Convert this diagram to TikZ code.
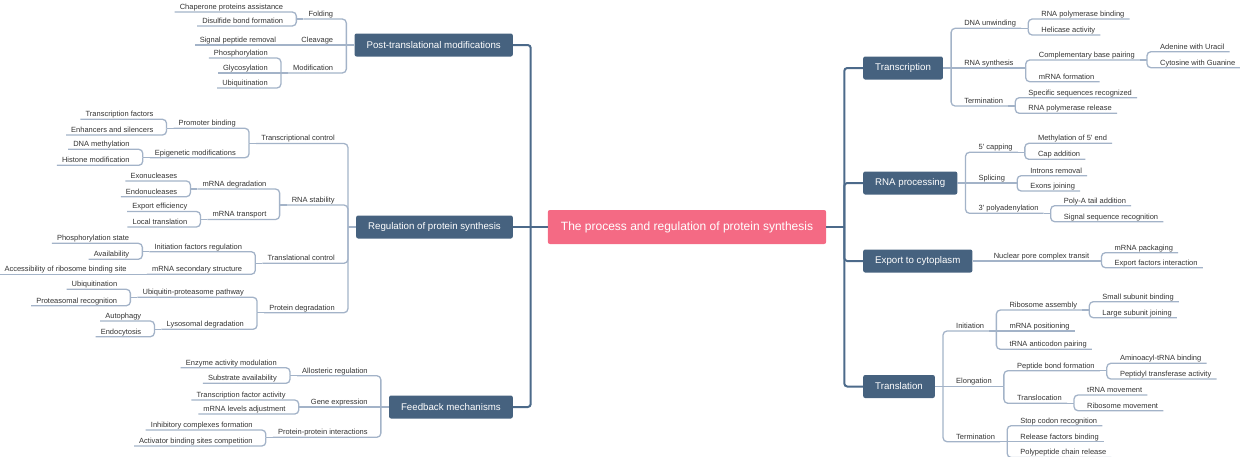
\documentclass[tikz,border=0pt]{standalone}
\usepackage{fontspec}
\setmainfont{Liberation Sans}
\usetikzlibrary{calc}

\definecolor{boxblue}{HTML}{46627F}
\definecolor{rootpink}{HTML}{F46A84}
\definecolor{trunkline}{HTML}{4C6A8A}
\definecolor{subline}{HTML}{A3B3C8}
\definecolor{txtgray}{HTML}{333333}

\tikzset{
  rootbox/.style={fill=rootpink, text=white, rounded corners=2pt, font=\fontsize{12}{14}\selectfont, inner xsep=13pt, minimum height=34pt},
  mainbox/.style={fill=boxblue, text=white, rounded corners=2pt, font=\fontsize{9.7}{11}\selectfont, inner xsep=12pt, minimum height=23pt},
  twig/.style={text=txtgray, font=\fontsize{7.5}{9}\selectfont, inner xsep=5pt, inner ysep=1.5pt, text depth=1pt},
  lnode/.style={twig, anchor=south east, xshift=-8pt},
  rnode/.style={twig, anchor=south west, xshift=8pt},
  trunk/.style={draw=trunkline, line width=2pt, rounded corners=3pt},
  branch/.style={draw=subline, line width=1.3pt, rounded corners=4pt},
}

\begin{document}
\begin{tikzpicture}[x=1pt, y=-1pt]
  \useasboundingbox (0,0) rectangle (1240,456);
  % Root and main topics
  \node[rootbox] (root) at (687,227) {The process and regulation of protein synthesis};
  \node[mainbox, anchor=east] (ptm) at (513,45) {Post-translational modifications};
  \node[mainbox, anchor=east] (reg) at (513,227) {Regulation of protein synthesis};
  \node[mainbox, anchor=east] (fb) at (513,407) {Feedback mechanisms};
  \node[mainbox, anchor=west] (tsc) at (863,68) {Transcription};
  \node[mainbox, anchor=west] (proc) at (863,183) {RNA processing};
  \node[mainbox, anchor=west] (exp) at (863,261) {Export to cytoplasm};
  \node[mainbox, anchor=west] (tsl) at (863,386.5) {Translation};
  % Trunk lines
  \coordinate (lj) at ($(root.west)+(-17,0)$);
  \draw[trunk] (root.west) -- (reg.east);
  \draw[trunk] (lj) |- (ptm.east);
  \draw[trunk] (lj) |- (fb.east);
  \coordinate (rj) at ($(root.east)+(18,0)$);
  \draw[trunk] (root.east) -- (rj);
  \foreach \m in {tsc,proc,exp,tsl} \draw[trunk] (rj) |- (\m.west);

  % ---------------- Post-translational modifications
  \draw[branch] (ptm.west) -- ++(-8,0) coordinate (ptmj);
  \node[lnode] (fold) at (ptmj |- 0,19) {Folding};
  \node[lnode] (clv) at (ptmj) {Cleavage};
  \node[lnode] (mdf) at (ptmj |- 0,73) {Modification};
  \draw[branch] (ptmj) |- (fold.south west);
  \draw[branch] (ptmj) -- (clv.south west);
  \draw[branch] (ptmj) |- (mdf.south west);
  % Folding
  \draw[branch] (fold.south west) -- ++(-7,0) coordinate (foldj);
  \foreach \n/\y/\lbl in {chap/12/Chaperone proteins assistance, disu/26/Disulfide bond formation}{
    \node[lnode] (\n) at (foldj |- 0,\y) {\lbl};
    \draw[branch] (foldj) |- (\n.south west);
  }
  % Cleavage
  \draw[branch] (clv.south west) -- ++(-7,0) coordinate (clvj);
  \node[lnode] (sig) at (clvj) {Signal peptide removal};
  \draw[branch] (clvj) -- (sig.south west);
  % Modification
  \draw[branch] (mdf.south west) -- ++(-7,0) coordinate (mdfj);
  \node[lnode] (phos) at (mdfj |- 0,58) {Phosphorylation};
  \node[lnode] (glyc) at (mdfj) {Glycosylation};
  \node[lnode] (ubq) at (mdfj |- 0,88) {Ubiquitination};
  \draw[branch] (mdfj) |- (phos.south west);
  \draw[branch] (mdfj) -- (glyc.south west);
  \draw[branch] (mdfj) |- (ubq.south west);

  % ---------------- Regulation of protein synthesis
  \draw[branch] (reg.west) -- ++(-8,0) coordinate (regj);
  \foreach \n/\y/\lbl in {tctl/143.5/Transcriptional control, rstab/205/RNA stability, tlctl/263.3/Translational control, pdeg/312.7/Protein degradation}{
    \node[lnode] (\n) at (regj |- 0,\y) {\lbl};
    \draw[branch] (regj) |- (\n.south west);
  }
  % Transcriptional control
  \draw[branch] (tctl.south west) -- ++(-7,0) coordinate (tctlj);
  \foreach \n/\y/\lbl in {pbind/128.3/Promoter binding, epi/157.7/Epigenetic modifications}{
    \node[lnode] (\n) at (tctlj |- 0,\y) {\lbl};
    \draw[branch] (tctlj) |- (\n.south west);
  }
  \draw[branch] (pbind.south west) -- ++(-7,0) coordinate (pbindj);
  \foreach \n/\y/\lbl in {tfac/119.3/Transcription factors, enh/135/Enhancers and silencers}{
    \node[lnode] (\n) at (pbindj |- 0,\y) {\lbl};
    \draw[branch] (pbindj) |- (\n.south west);
  }
  \draw[branch] (epi.south west) -- ++(-7,0) coordinate (epij);
  \foreach \n/\y/\lbl in {dnam/149.3/DNA methylation, hist/165.3/Histone modification}{
    \node[lnode] (\n) at (epij |- 0,\y) {\lbl};
    \draw[branch] (epij) |- (\n.south west);
  }
  % RNA stability
  \draw[branch] (rstab.south west) -- ++(-7,0) coordinate (rstabj);
  \foreach \n/\y/\lbl in {mdeg/189/mRNA degradation, mtr/219.5/mRNA transport}{
    \node[lnode] (\n) at (rstabj |- 0,\y) {\lbl};
    \draw[branch] (rstabj) |- (\n.south west);
  }
  \draw[branch] (mdeg.south west) -- ++(-7,0) coordinate (mdegj);
  \foreach \n/\y/\lbl in {exo/181/Exonucleases, endo/196.7/Endonucleases}{
    \node[lnode] (\n) at (mdegj |- 0,\y) {\lbl};
    \draw[branch] (mdegj) |- (\n.south west);
  }
  \draw[branch] (mtr.south west) -- ++(-7,0) coordinate (mtrj);
  \foreach \n/\y/\lbl in {expeff/211.5/Export efficiency, loct/227/Local translation}{
    \node[lnode] (\n) at (mtrj |- 0,\y) {\lbl};
    \draw[branch] (mtrj) |- (\n.south west);
  }
  % Translational control
  \draw[branch] (tlctl.south west) -- ++(-7,0) coordinate (tlctlj);
  \foreach \n/\y/\lbl in {ifr/251.7/Initiation factors regulation, msec/274.3/mRNA secondary structure}{
    \node[lnode] (\n) at (tlctlj |- 0,\y) {\lbl};
    \draw[branch] (tlctlj) |- (\n.south west);
  }
  \draw[branch] (ifr.south west) -- ++(-7,0) coordinate (ifrj);
  \foreach \n/\y/\lbl in {phst/243.3/Phosphorylation state, avail/259.3/Availability}{
    \node[lnode] (\n) at (ifrj |- 0,\y) {\lbl};
    \draw[branch] (ifrj) |- (\n.south west);
  }
  \draw[branch] (msec.south west) -- ++(-7,0) coordinate (msecj);
  \node[lnode] (acc) at (msecj) {Accessibility of ribosome binding site};
  \draw[branch] (msecj) -- (acc.south west);
  % Protein degradation
  \draw[branch] (pdeg.south west) -- ++(-7,0) coordinate (pdegj);
  \foreach \n/\y/\lbl in {ups/297.3/Ubiquitin-proteasome pathway, lys/329.3/Lysosomal degradation}{
    \node[lnode] (\n) at (pdegj |- 0,\y) {\lbl};
    \draw[branch] (pdegj) |- (\n.south west);
  }
  \draw[branch] (ups.south west) -- ++(-7,0) coordinate (upsj);
  \foreach \n/\y/\lbl in {ubqb/289.3/Ubiquitination, prec/305.7/Proteasomal recognition}{
    \node[lnode] (\n) at (upsj |- 0,\y) {\lbl};
    \draw[branch] (upsj) |- (\n.south west);
  }
  \draw[branch] (lys.south west) -- ++(-7,0) coordinate (lysj);
  \foreach \n/\y/\lbl in {auto/321/Autophagy, endc/336.7/Endocytosis}{
    \node[lnode] (\n) at (lysj |- 0,\y) {\lbl};
    \draw[branch] (lysj) |- (\n.south west);
  }

  % ---------------- Feedback mechanisms
  \draw[branch] (fb.west) -- ++(-8,0) coordinate (fbj);
  \node[lnode] (allo) at (fbj |- 0,375.7) {Allosteric regulation};
  \node[lnode] (gexp) at (fbj) {Gene expression};
  \node[lnode] (ppi) at (fbj |- 0,437.3) {Protein-protein interactions};
  \draw[branch] (fbj) |- (allo.south west);
  \draw[branch] (fbj) -- (gexp.south west);
  \draw[branch] (fbj) |- (ppi.south west);
  \draw[branch] (allo.south west) -- ++(-7,0) coordinate (alloj);
  \foreach \n/\y/\lbl in {enz/367.7/Enzyme activity modulation, subs/383.3/Substrate availability}{
    \node[lnode] (\n) at (alloj |- 0,\y) {\lbl};
    \draw[branch] (alloj) |- (\n.south west);
  }
  \draw[branch] (gexp.south west) -- ++(-7,0) coordinate (gexpj);
  \foreach \n/\y/\lbl in {tfa/400/Transcription factor activity, mlev/414/mRNA levels adjustment}{
    \node[lnode] (\n) at (gexpj |- 0,\y) {\lbl};
    \draw[branch] (gexpj) |- (\n.south west);
  }
  \draw[branch] (ppi.south west) -- ++(-7,0) coordinate (ppij);
  \foreach \n/\y/\lbl in {inhib/430/Inhibitory complexes formation, actv/446/Activator binding sites competition}{
    \node[lnode] (\n) at (ppij |- 0,\y) {\lbl};
    \draw[branch] (ppij) |- (\n.south west);
  }

  % ---------------- Transcription
  \draw[branch] (tsc.east) -- ++(8,0) coordinate (tscj);
  \node[rnode] (dnau) at (tscj |- 0,28.3) {DNA unwinding};
  \node[rnode] (rsyn) at (tscj) {RNA synthesis};
  \node[rnode] (term) at (tscj |- 0,106) {Termination};
  \draw[branch] (tscj) |- (dnau.south east);
  \draw[branch] (tscj) -- (rsyn.south east);
  \draw[branch] (tscj) |- (term.south east);
  \draw[branch] (dnau.south east) -- ++(7,0) coordinate (dnauj);
  \foreach \n/\y/\lbl in {rpb/19/RNA polymerase binding, heli/35/Helicase activity}{
    \node[rnode] (\n) at (dnauj |- 0,\y) {\lbl};
    \draw[branch] (dnauj) |- (\n.south east);
  }
  \draw[branch] (rsyn.south east) -- ++(7,0) coordinate (rsynj);
  \foreach \n/\y/\lbl in {cbp/60/Complementary base pairing, mform/81.7/mRNA formation}{
    \node[rnode] (\n) at (rsynj |- 0,\y) {\lbl};
    \draw[branch] (rsynj) |- (\n.south east);
  }
  \draw[branch] (cbp.south east) -- ++(7,0) coordinate (cbpj);
  \foreach \n/\y/\lbl in {adu/51.7/Adenine with Uracil, cyg/67.7/Cytosine with Guanine}{
    \node[rnode] (\n) at (cbpj |- 0,\y) {\lbl};
    \draw[branch] (cbpj) |- (\n.south east);
  }
  \draw[branch] (term.south east) -- ++(7,0) coordinate (termj);
  \foreach \n/\y/\lbl in {ssr/97.7/Specific sequences recognized, rpr/113.3/RNA polymerase release}{
    \node[rnode] (\n) at (termj |- 0,\y) {\lbl};
    \draw[branch] (termj) |- (\n.south east);
  }

  % ---------------- RNA processing
  \draw[branch] (proc.east) -- ++(8,0) coordinate (procj);
  \node[rnode] (cap) at (procj |- 0,152.3) {5\textquotesingle{} capping};
  \node[rnode] (spl) at (procj) {Splicing};
  \node[rnode] (poly) at (procj |- 0,213.3) {3\textquotesingle{} polyadenylation};
  \draw[branch] (procj) |- (cap.south east);
  \draw[branch] (procj) -- (spl.south east);
  \draw[branch] (procj) |- (poly.south east);
  \draw[branch] (cap.south east) -- ++(7,0) coordinate (capj);
  \foreach \n/\y/\lbl in {meth/143.3/Methylation of 5\textquotesingle{} end, capadd/159.3/Cap addition}{
    \node[rnode] (\n) at (capj |- 0,\y) {\lbl};
    \draw[branch] (capj) |- (\n.south east);
  }
  \draw[branch] (spl.south east) -- ++(7,0) coordinate (splj);
  \foreach \n/\y/\lbl in {intr/175.7/Introns removal, exj/191/Exons joining}{
    \node[rnode] (\n) at (splj |- 0,\y) {\lbl};
    \draw[branch] (splj) |- (\n.south east);
  }
  \draw[branch] (poly.south east) -- ++(7,0) coordinate (polyj);
  \foreach \n/\y/\lbl in {pat/205.7/Poly-A tail addition, ssrec/221.7/Signal sequence recognition}{
    \node[rnode] (\n) at (polyj |- 0,\y) {\lbl};
    \draw[branch] (polyj) |- (\n.south east);
  }

  % ---------------- Export to cytoplasm
  \draw[branch] (exp.east) -- ++(8,0) coordinate (expj);
  \node[rnode] (npct) at (expj) {Nuclear pore complex transit};
  \draw[branch] (expj) -- (npct.south east);
  \draw[branch] (npct.south east) -- ++(7,0) coordinate (npctj);
  \foreach \n/\y/\lbl in {mpack/252.7/mRNA packaging, efi/267.7/Export factors interaction}{
    \node[rnode] (\n) at (npctj |- 0,\y) {\lbl};
    \draw[branch] (npctj) |- (\n.south east);
  }

  % ---------------- Translation
  \draw[branch] (tsl.east) -- ++(8,0) coordinate (tslj);
  \node[rnode] (init) at (tslj |- 0,331) {Initiation};
  \node[rnode] (elong) at (tslj) {Elongation};
  \node[rnode] (tterm) at (tslj |- 0,441.7) {Termination};
  \draw[branch] (tslj) |- (init.south east);
  \draw[branch] (tslj) -- (elong.south east);
  \draw[branch] (tslj) |- (tterm.south east);
  % Initiation
  \draw[branch] (init.south east) -- ++(7,0) coordinate (initj);
  \node[rnode] (rasm) at (initj |- 0,310) {Ribosome assembly};
  \node[rnode] (mpos) at (initj) {mRNA positioning};
  \node[rnode] (tac) at (initj |- 0,349.3) {tRNA anticodon pairing};
  \draw[branch] (initj) |- (rasm.south east);
  \draw[branch] (initj) -- (mpos.south east);
  \draw[branch] (initj) |- (tac.south east);
  \draw[branch] (rasm.south east) -- ++(7,0) coordinate (rasmj);
  \foreach \n/\y/\lbl in {ssb/301.7/Small subunit binding, lsj/317.7/Large subunit joining}{
    \node[rnode] (\n) at (rasmj |- 0,\y) {\lbl};
    \draw[branch] (rasmj) |- (\n.south east);
  }
  % Elongation
  \draw[branch] (elong.south east) -- ++(7,0) coordinate (elongj);
  \foreach \n/\y/\lbl in {pbf/370.7/Peptide bond formation, tloc/403.3/Translocation}{
    \node[rnode] (\n) at (elongj |- 0,\y) {\lbl};
    \draw[branch] (elongj) |- (\n.south east);
  }
  \draw[branch] (pbf.south east) -- ++(7,0) coordinate (pbfj);
  \foreach \n/\y/\lbl in {aab/363.3/Aminoacyl-tRNA binding, pta/379/Peptidyl transferase activity}{
    \node[rnode] (\n) at (pbfj |- 0,\y) {\lbl};
    \draw[branch] (pbfj) |- (\n.south east);
  }
  \draw[branch] (tloc.south east) -- ++(7,0) coordinate (tlocj);
  \foreach \n/\y/\lbl in {trm/395/tRNA movement, rmov/410.7/Ribosome movement}{
    \node[rnode] (\n) at (tlocj |- 0,\y) {\lbl};
    \draw[branch] (tlocj) |- (\n.south east);
  }
  % Termination
  \draw[branch] (tterm.south east) -- ++(7,0) coordinate (ttermj);
  \node[rnode] (scr) at (ttermj |- 0,425.7) {Stop codon recognition};
  \node[rnode] (rfb) at (ttermj) {Release factors binding};
  \node[rnode] (pcr) at (ttermj |- 0,457.5) {Polypeptide chain release};
  \draw[branch] (ttermj) |- (scr.south east);
  \draw[branch] (ttermj) -- (rfb.south east);
  \draw[branch] (ttermj) |- (pcr.south east);
\end{tikzpicture}
\end{document}
